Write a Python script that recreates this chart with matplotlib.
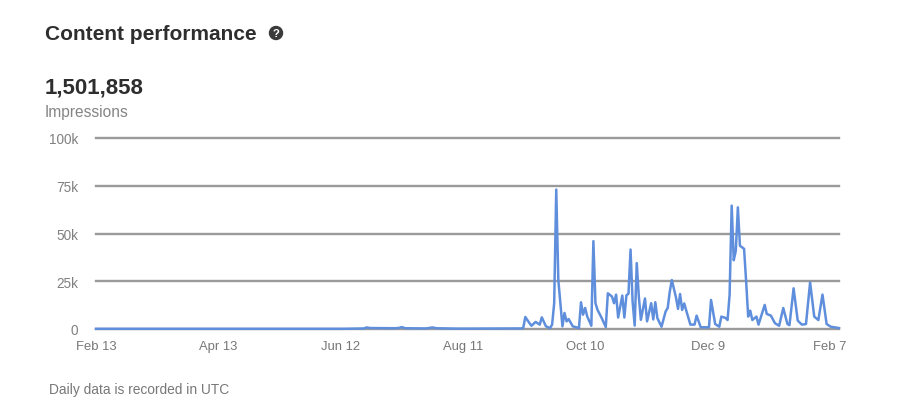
import matplotlib
matplotlib.use('Agg')
import matplotlib.pyplot as plt
from matplotlib.patches import Circle

# days counted from Feb 13
days = [0, 120, 130, 131, 133, 145, 147, 148, 150, 160, 163, 165, 175, 180, 206,
        207, 208, 210, 211, 213, 215, 216, 218, 220, 221, 222, 223, 224, 226, 227, 228, 229, 231,
        234, 235, 236, 237, 238, 240, 241, 242, 243, 245, 247, 248, 250, 251, 252, 253,
        255, 256, 257, 258, 259, 260, 261, 262, 263, 264, 266, 267, 269, 270, 271, 272, 274,
        276, 277, 278, 279, 281, 282, 283, 284, 285, 286, 288, 290, 291, 293, 297, 298, 300,
        302, 303, 305, 306, 307, 308, 309, 310, 311, 312, 314, 315, 316, 317, 318, 320, 321,
        324, 325, 327, 329, 331, 333, 335, 336, 338, 340, 342, 344, 346, 348, 350, 352, 354, 356, 360]
impressions = [0.1, 0.1, 0.3, 0.8, 0.5, 0.4, 0.6, 1.0, 0.4, 0.3, 0.8, 0.4, 0.2, 0.2, 0.3,
               0.5, 6.3, 3.1, 1.7, 3.7, 2.3, 6.1, 1.4, 0.5, 2.3, 13.5, 73, 25.7, 1.4, 8.4, 4, 5.2, 1.4,
               0.5, 14, 7.5, 11, 6.6, 1.7, 46, 13.5, 10, 5.8, 1, 18.7, 17, 13.5, 18, 6,
               17.5, 6, 17.6, 18.5, 41.6, 14.3, 1.8, 34.5, 17.2, 4.8, 16, 4, 13.5, 5, 14, 5.7, 1.2,
               9.2, 11, 19.5, 25.6, 16.6, 10.5, 18.3, 10, 13.4, 9.6, 2.3, 2.3, 7, 0.9, 0.9, 15.2, 2.6,
               1.2, 6.5, 5.8, 4.7, 18, 64.6, 36, 41, 63.7, 43.6, 42, 25, 6.5, 9.6, 4.7, 6.5, 2.3,
               12.6, 7.9, 7, 3, 1.7, 11, 2.6, 2, 21.3, 4.4, 2.3, 2.6, 24.4, 6.5, 4.7, 18, 2.6, 1.2, 0.5]
y_ticks = [0, 25, 50, 75, 100]
y_labels = ['0', '25k', '50k', '75k', '100k']
x_ticks = [0, 59, 118.3, 177.8, 237, 296.5, 355.6]
x_labels = ['Feb 13', 'Apr 13', 'Jun 12', 'Aug 11', 'Oct 10', 'Dec 9', 'Feb 7']

plt.rcParams['font.family'] = ['Liberation Sans', 'DejaVu Sans']

W, H = 902, 414
fig = plt.figure(figsize=(W / 100, H / 100), dpi=100)
ax = fig.add_axes([96 / W, 1 - 330 / H, 743 / W, 191 / H])

for v in y_ticks:
    ax.axhline(v, color='#9a9a9a', lw=1.7, zorder=1, clip_on=False)
ax.plot(days, impressions, color='#5f8fdc', lw=1.8, zorder=2, clip_on=False)

ax.set_xlim(0, 360)
ax.set_ylim(0, 100)
for s in ax.spines.values():
    s.set_visible(False)
ax.set_yticks(y_ticks)
ax.set_yticklabels(y_labels, fontsize=9.8, color='#808080')
ax.set_xticks(x_ticks)
ax.set_xticklabels(x_labels, fontsize=9.4, color='#777777')
ax.tick_params(length=0)
ax.tick_params(axis='y', pad=13)
ax.tick_params(axis='x', pad=8)

fig.text(45 / W, 1 - 35 / H, 'Content performance', fontsize=15, fontweight='bold',
         color='#2e2e2e', va='center')
fig.text(45 / W, 1 - 88 / H, '1,501,858', fontsize=16, fontweight='bold',
         color='#2e2e2e', va='center')
fig.text(45 / W, 1 - 112 / H, 'Impressions', fontsize=11.2, color='#858585', va='center')
fig.text(49 / W, 1 - 390 / H, 'Daily data is recorded in UTC', fontsize=9.9, color='#777777', va='center')

# help icon next to the title
icon = Circle((276, H - 34), 6.5, transform=None, color='#3a3a3a')
fig.add_artist(icon)
fig.text(276 / W, 1 - 34 / H, '?', fontsize=8, fontweight='bold', color='white', ha='center', va='center')

fig.savefig('out.png', dpi=100)
